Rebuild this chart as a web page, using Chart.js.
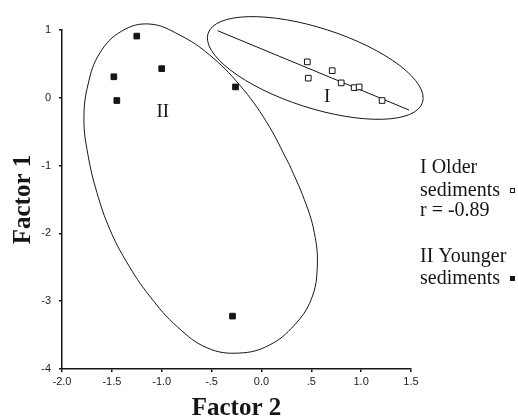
<!DOCTYPE html>
<html>
<head>
<meta charset="utf-8">
<script src="https://cdn.jsdelivr.net/npm/chart.js@4.4.1/dist/chart.umd.min.js"></script>
<style>
    html, body { margin: 0; padding: 0; background: #fff; }
</style>
</head>
<body>
<canvas id="factorChart" width="518" height="418"></canvas>
<script>
// datos
const olderX = [0.46, 0.47, 0.71, 0.80, 0.93, 0.98, 1.21];
const olderY = [0.53, 0.29, 0.40, 0.22, 0.15, 0.16, -0.04];
const youngerX = [-1.25, -1.48, -1.45, -1.00, -0.26, -0.29];
const youngerY = [0.91, 0.31, -0.04, 0.43, 0.16, -3.22];

// recta de regresion del grupo I (extremos)
const fitX = [-0.44, 1.48];
const fitY = [0.99, -0.18];

// contorno del grupo II (empieza en un tramo recto)
const outlineIIX = [0.28, 0.05, -0.22, -0.52, -0.82, -1.12, -1.40, -1.62, -1.74, -1.78, -1.74, -1.65, -1.52, -1.35, -1.12, -0.84, -0.54, -0.22, 0.08, 0.33, 0.50, 0.56, 0.53, 0.43, 0.28];
const outlineIIY = [-0.985, -0.353, 0.191, 0.632, 0.926, 1.088, 0.985, 0.662, 0.191, -0.324, -0.838, -1.397, -1.941, -2.426, -2.926, -3.382, -3.691, -3.765, -3.647, -3.353, -2.971, -2.5, -1.985, -1.5, -0.985];

// elipse del grupo I: centro, extremo del semieje mayor, extremo del semieje menor
const ellipseIX = [0.54, 1.615, 0.416];
const ellipseIY = [0.44, -0.07, -0.12];

const xTickValues = [-2.0, -1.5, -1.0, -0.5, 0.0, 0.5, 1.0, 1.5];
const xTickLabels = ['-2.0', '-1.5', '-1.0', '-.5', '0.0', '.5', '1.0', '1.5'];
const yTickValues = [-4, -3, -2, -1, 0, 1];
const yTickLabels = ['-4', '-3', '-2', '-1', '0', '1'];

const groupLabels = ['I', 'II'];
const groupLabelX = [0.66, -0.99];
const groupLabelY = [0.015, -0.21];

const legendLines = ['I Older', 'sediments', 'r = -0.89', 'II Younger', 'sediments'];

// layout
const legendBaselines = [143, 166, 186, 232, 254]; // desde el borde superior del area
const legendMarkers = { 1: 'open', 4: 'filled' };
const ink = '#151515';

const toPoints = (xs, ys) => xs.map((x, i) => ({ x: x, y: ys[i] }));

const annotate = {
    id: 'annotate',
    beforeDatasetsDraw(chart) {
        const { ctx } = chart;
        const xs = chart.scales.x;
        const ys = chart.scales.y;
        // elipse como imagen afin de un circulo unidad
        const cx = xs.getPixelForValue(ellipseIX[0]);
        const cy = ys.getPixelForValue(ellipseIY[0]);
        const ux = xs.getPixelForValue(ellipseIX[1]) - cx;
        const uy = ys.getPixelForValue(ellipseIY[1]) - cy;
        const vx = xs.getPixelForValue(ellipseIX[2]) - cx;
        const vy = ys.getPixelForValue(ellipseIY[2]) - cy;
        ctx.save();
        ctx.beginPath();
        ctx.transform(ux, uy, vx, vy, cx, cy);
        ctx.arc(0, 0, 1, 0, Math.PI * 2);
        ctx.restore();
        ctx.save();
        ctx.strokeStyle = ink;
        ctx.lineWidth = 1;
        ctx.stroke();
        ctx.restore();
    },
    afterDatasetsDraw(chart) {
        const { ctx, chartArea } = chart;
        const xs = chart.scales.x;
        const ys = chart.scales.y;
        ctx.save();
        ctx.fillStyle = ink;
        ctx.font = '19px "Liberation Serif"';
        ctx.textAlign = 'center';
        ctx.textBaseline = 'middle';
        groupLabels.forEach((t, i) => {
            ctx.fillText(t, xs.getPixelForValue(groupLabelX[i]), ys.getPixelForValue(groupLabelY[i]));
        });

        // leyenda de texto a la derecha
        ctx.font = '20px "Liberation Serif"';
        ctx.textAlign = 'left';
        ctx.textBaseline = 'alphabetic';
        const x0 = chartArea.right + 9;
        legendLines.forEach((t, i) => {
            const yb = chartArea.top + legendBaselines[i];
            ctx.fillText(t, x0, yb);
            if (legendMarkers[i]) {
                const mx = x0 + ctx.measureText(t).width + 10;
                const my = yb - 8;
                if (legendMarkers[i] === 'open') {
                    ctx.strokeStyle = ink;
                    ctx.lineWidth = 1;
                    ctx.strokeRect(mx + 0.5, my + 0.5, 4, 4);
                } else {
                    ctx.fillRect(mx, my, 5, 5);
                }
            }
        });
        ctx.restore();
    }
};

const ctx = document.getElementById('factorChart').getContext('2d');

const tickFont = { family: '"Liberation Sans", Arial, sans-serif', size: 11 };
const titleFont = { family: '"Liberation Serif", "Times New Roman", serif', size: 25, weight: 'bold', lineHeight: 1 };

new Chart(ctx, {
    type: 'scatter',
    data: {
        datasets: [
            {
                label: 'I Older sediments',
                data: toPoints(olderX, olderY),
                pointStyle: 'rect',
                pointRadius: 4,
                backgroundColor: '#fff',
                borderColor: ink,
                borderWidth: 1
            },
            {
                label: 'II Younger sediments',
                data: toPoints(youngerX, youngerY),
                pointStyle: 'rect',
                pointRadius: 4,
                backgroundColor: ink,
                borderColor: ink,
                borderWidth: 1
            },
            {
                label: 'fit',
                data: toPoints(fitX, fitY),
                showLine: true,
                pointRadius: 0,
                borderColor: ink,
                borderWidth: 1,
                clip: false
            },
            {
                label: 'outline II',
                data: toPoints(outlineIIX, outlineIIY),
                showLine: true,
                tension: 0.4,
                pointRadius: 0,
                borderColor: ink,
                borderWidth: 1,
                clip: false
            }
        ]
    },
    options: {
        responsive: false,
        animation: false,
        events: [],
        layout: { padding: { top: 30, right: 107, bottom: 0, left: 0 } },
        plugins: {
            legend: { display: false },
            tooltip: { enabled: false }
        },
        scales: {
            x: {
                type: 'linear',
                position: 'bottom',
                min: -2,
                max: 1.5,
                afterBuildTicks: (s) => { s.ticks = xTickValues.map(v => ({ value: v })); },
                afterFit: (s) => { s.height = 49; },
                ticks: {
                    callback: (v, i) => xTickLabels[i],
                    font: tickFont,
                    color: '#222',
                    padding: 3,
                    maxRotation: 0
                },
                grid: { drawOnChartArea: false, drawTicks: true, tickLength: 3, color: ink, lineWidth: 1.5 },
                border: { display: true, color: ink, width: 1.5 },
                title: { display: true, text: 'Factor 2', font: titleFont, color: ink, padding: { top: 0, bottom: -3 } }
            },
            y: {
                type: 'linear',
                min: -4,
                max: 1,
                afterBuildTicks: (s) => { s.ticks = yTickValues.map(v => ({ value: v })); },
                afterFit: (s) => { s.width = 62; },
                ticks: {
                    callback: (v, i) => yTickLabels[i],
                    font: tickFont,
                    color: '#222',
                    padding: 8
                },
                grid: { drawOnChartArea: false, drawTicks: true, tickLength: 3, color: ink, lineWidth: 1.5 },
                border: { display: true, color: ink, width: 1.5 },
                title: { display: true, text: 'Factor 1', font: titleFont, color: ink, padding: { top: 11, bottom: 0 } }
            }
        }
    },
    plugins: [annotate]
});
</script>
</body>
</html>
